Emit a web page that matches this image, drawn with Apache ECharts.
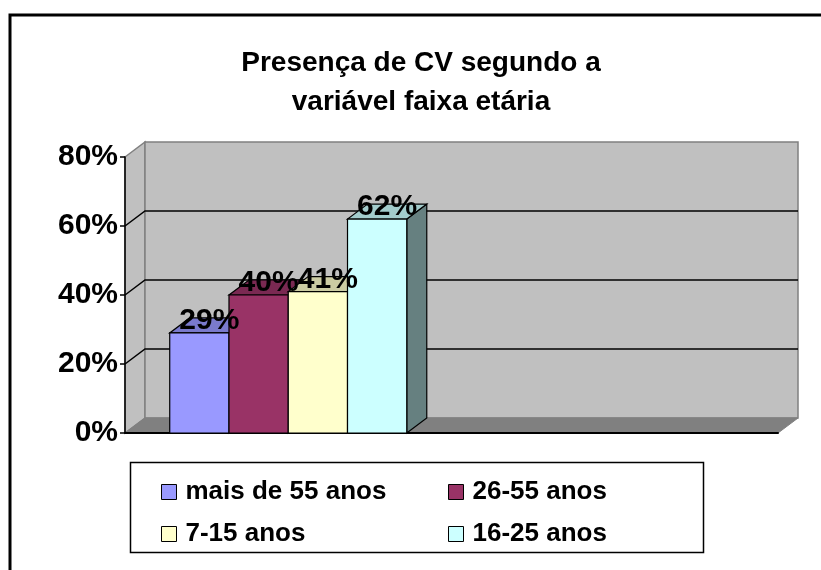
<!DOCTYPE html>
<html>
<head>
<meta charset="utf-8">
<script src="https://cdn.jsdelivr.net/npm/echarts@6/dist/echarts.min.js"></script>
<style>
  html, body { margin: 0; padding: 0; background: #fff; }
  #main { width: 821px; height: 570px; }
</style>
</head>
<body>
<div id="main"></div>
<script>
// data
var categories = ['Faixa etária', ''];
var seriesNames = ['mais de 55 anos', '26-55 anos', '7-15 anos', '16-25 anos'];
var seriesValues = [29, 40, 41, 62];
var yTicks = [0, 20, 40, 60, 80];

// excel-ish 3d colours: front, top, side
var frontColors = ['#9999FF', '#993366', '#FFFFCC', '#CCFFFF'];
var topColors = ['#7A7ACC', '#7A2952', '#CCCCA3', '#A3CCCC'];
var sideColors = ['#4D4D80', '#4D1A33', '#808066', '#668080'];

var DX = 20, DY = -15;          // depth of the 3d box
var GROUP_FRAC = 0.726;         // part of the category used by the bars
var FONT = '"Liberation Sans", Arial, Helvetica, sans-serif';

var myChart = echarts.init(document.getElementById('main'));

// side wall, back wall, floor and gridlines of the 3d box
function renderWalls(params, api) {
    var cs = params.coordSys;
    var x0 = cs.x, x1 = cs.x + cs.width, yt = cs.y, yb = cs.y + cs.height;
    var children = [
        { type: 'polygon', shape: { points: [[x0, yt], [x0 + DX, yt + DY], [x0 + DX, yb + DY], [x0, yb]] },
          style: { fill: '#C0C0C0', stroke: '#808080', lineWidth: 1.5 } },
        { type: 'rect', shape: { x: x0 + DX, y: yt + DY, width: cs.width, height: cs.height },
          style: { fill: '#C0C0C0', stroke: '#808080', lineWidth: 1.5 } },
        { type: 'polygon', shape: { points: [[x0, yb], [x1, yb], [x1 + DX, yb + DY], [x0 + DX, yb + DY]] },
          style: { fill: '#808080', stroke: '#808080', lineWidth: 1 } }
    ];
    yTicks.slice(1, -1).forEach(function (t) {
        var y = api.coord([0, t])[1];
        children.push({ type: 'polyline', shape: { points: [[x0, y], [x0 + DX, y + DY], [x1 + DX, y + DY]] },
            style: { fill: null, stroke: '#000', lineWidth: 1.5 } });
    });
    return { type: 'group', children: children };
}

function renderBar(si) {
    return function (params, api) {
        var n = seriesNames.length;
        var base = api.coord([api.value(0), 0]);
        var top = api.coord([api.value(0), api.value(1)]);
        var bw = api.size([1, 0])[0] * GROUP_FRAC / n;
        var xl = base[0] - bw * n / 2 + si * bw;
        var xr = xl + bw, yb = base[1], yt = top[1];
        return {
            type: 'group',
            children: [
                { type: 'polygon', shape: { points: [[xr, yb], [xr + DX, yb + DY], [xr + DX, yt + DY], [xr, yt]] },
                  style: { fill: sideColors[si], stroke: '#000', lineWidth: 1.2 } },
                { type: 'polygon', shape: { points: [[xl, yt], [xr, yt], [xr + DX, yt + DY], [xl + DX, yt + DY]] },
                  style: { fill: topColors[si], stroke: '#000', lineWidth: 1.2 } },
                { type: 'rect', shape: { x: xl, y: yt, width: bw, height: yb - yt },
                  style: { fill: frontColors[si], stroke: '#000', lineWidth: 1.2 } },
                { type: 'text', z2: 100,
                  style: { text: api.value(1) + '%', x: (xl + xr) / 2 + DX / 2, y: yt + 3,
                           align: 'center', verticalAlign: 'bottom',
                           fontSize: 30, fontWeight: 'bold', fontFamily: FONT, fill: '#000' } }
            ]
        };
    };
}

var series = [{
    type: 'custom',
    name: 'walls',
    silent: true,
    z: 1,
    renderItem: renderWalls,
    data: [[0, 0]]
}];
seriesNames.forEach(function (name, si) {
    series.push({
        type: 'custom',
        name: name,
        z: 4,
        renderItem: renderBar(si),
        itemStyle: { color: frontColors[si] },
        encode: { x: 0, y: 1 },
        data: [[0, seriesValues[si]]]
    });
});

var legendBase = {
    orient: 'vertical',
    top: 473,
    itemGap: 14,
    itemWidth: 15,
    itemHeight: 15,
    icon: 'rect',
    selectedMode: false,
    itemStyle: { borderColor: '#000', borderWidth: 1 },
    textStyle: { fontSize: 26, fontWeight: 'bold', fontFamily: FONT, color: '#000', lineHeight: 28, padding: [0, 0, 0, 4] }
};

var option = {
    animation: false,
    backgroundColor: '#fff',
    title: {
        text: 'Presença de CV segundo a\nvariável faixa etária',
        left: 416,
        top: 39,
        textAlign: 'center',
        textStyle: { fontSize: 28, fontWeight: 'bold', fontFamily: FONT, color: '#000', lineHeight: 39 }
    },
    legend: [
        Object.assign({}, legendBase, { left: 156, data: [seriesNames[0], seriesNames[2]] }),
        Object.assign({}, legendBase, { left: 443, data: [seriesNames[1], seriesNames[3]] })
    ],
    grid: { left: 125, right: 43, top: 157, bottom: 137 },
    xAxis: {
        type: 'category',
        data: categories,
        z: 3,
        axisLine: { lineStyle: { color: '#000', width: 2 } },
        axisTick: { show: false },
        axisLabel: { show: false },
        splitLine: { show: false }
    },
    yAxis: {
        type: 'value',
        min: yTicks[0],
        max: yTicks[yTicks.length - 1],
        interval: 20,
        z: 3,
        axisLine: { show: true, lineStyle: { color: '#000', width: 1.5 } },
        axisTick: { show: true, length: 5, lineStyle: { color: '#000', width: 1.5 } },
        axisLabel: { formatter: '{value}%', fontSize: 30, fontWeight: 'bold', fontFamily: FONT, color: '#000', margin: 7 },
        splitLine: { show: false }
    },
    graphic: [
        { type: 'rect', shape: { x: 10, y: 15, width: 840, height: 620 },
          style: { fill: null, stroke: '#000', lineWidth: 3 }, silent: true },
        { type: 'rect', shape: { x: 130.5, y: 462.5, width: 573, height: 90 },
          style: { fill: null, stroke: '#000', lineWidth: 1.5 }, silent: true }
    ],
    series: series
};

myChart.setOption(option);
</script>
</body>
</html>
